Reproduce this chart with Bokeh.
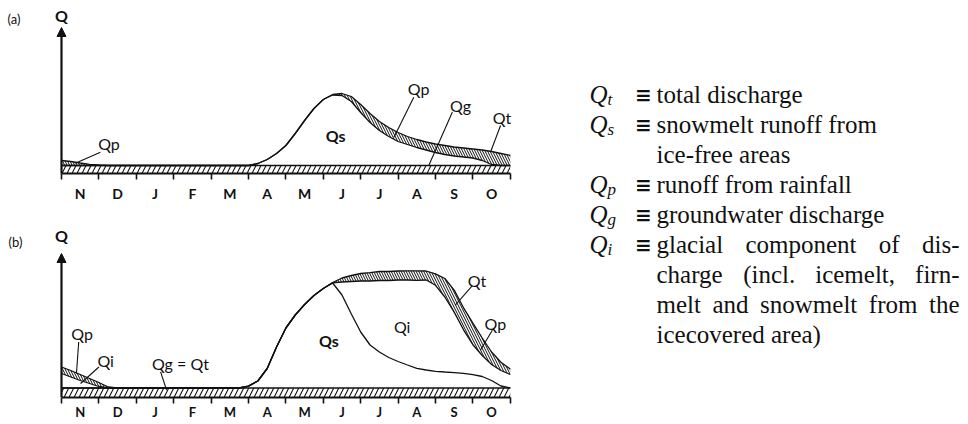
from bokeh.plotting import figure
from bokeh.layouts import row, column
from bokeh.models import Range1d, FixedTicker, Arrow, NormalHead
from bokeh.core.properties import value
from bokeh.embed import file_html
from bokeh.resources import INLINE

# ---------------- data ----------------
MONTHS = ["N", "D", "J", "F", "M", "A", "M", "J", "J", "A", "S", "O"]
T = [i * 0.25 for i in range(49)]  # months since 1 November

# panel (a): ice-free basin
QG_A = 0.8
QS_A = [0] * 21 + [0.2, 0.6, 1.2, 2.0, 3.2, 4.5, 5.7, 6.6, 7.05, 7.0, 6.4, 5.3, 4.3, 3.5,
                   2.9, 2.4, 2.1, 1.8, 1.55, 1.3, 1.1, 0.95, 0.85, 0.75, 0.5, 0.1, 0, 0]
QP_A = [0.5, 0.4, 0.25, 0.12, 0.05] + [0] * 24 + [0.05, 0.2, 0.5, 0.8, 0.9, 0.9, 0.9, 0.9,
                                                  0.8, 0.8, 0.8, 0.85, 0.9, 0.9, 0.9, 0.9,
                                                  1.05, 1.3, 1.2, 1.0]

# panel (b): glacierized basin
QG_B = 0.9
QS_B = [0] * 20 + [0.19, 0.7, 1.95, 4.1, 6.0, 7.3, 8.35, 9.25, 9.95, 10.5, 9.3, 7.4, 5.6, 4.3,
                   3.6, 3.05, 2.65, 2.3, 1.97, 1.8, 1.67, 1.6, 1.54, 1.47, 1.33, 1.15, 0.75,
                   0.2, 0]
QI_B = [1.45, 1.1, 0.75, 0.45, 0.15] + [0] * 24 + [0.02, 1.3, 3.25, 5.1, 6.4, 7.15, 7.7, 8.15,
                                                   8.5, 8.8, 9.0, 8.6, 7.5, 6.05, 4.35, 3.0,
                                                   2.1, 1.6, 1.55, 1.35]
QP_B = [0.65, 0.65, 0.6, 0.5, 0.4, 0.1] + [0] * 23 + [0.03, 0.4, 0.6, 0.75, 0.83, 0.9, 0.9,
                                                      0.9, 0.92, 0.95, 0.9, 1.15, 1.85, 2.2,
                                                      2.2, 2.15, 1.75, 1.25, 0.83, 0.55]

# in-chart labels and leader lines
LAB_A_TXT = ["Qp", "Qs", "Qp", "Qg", "Qt"]
LAB_A_X = [1.27, 7.33, 9.55, 10.67, 11.78]
LAB_A_Y = [2.97, 3.8, 8.47, 6.8, 5.63]
LEAD_A = dict(x0=[1.04, 9.42, 10.45, 11.74], y0=[2.13, 7.63, 6.13, 4.8],
              x1=[0.37, 8.89, 9.82, 11.47], y1=[1.03, 3.63, 0.8, 2.13])

LAB_B_TXT = ["Qp", "Qi", "Qg = Qt", "Qs", "Qi", "Qt", "Qp"]
LAB_B_X = [0.55, 1.18, 3.18, 7.15, 9.11, 11.11, 11.6]
LAB_B_Y = [6.35, 3.68, 3.35, 5.68, 7.02, 11.68, 7.35]
LEAD_B = dict(x0=[0.46, 1.0, 2.65, 10.98, 11.52], y0=[5.5, 3.0, 2.52, 11.12, 6.68],
              x1=[0.4, 0.51, 2.81, 10.53, 11.2], y1=[2.35, 1.35, 0.68, 9.18, 4.68])

# legend text
LEG_SUB = ["t", "s", "", "p", "g", "i", "", "", ""]
LEG_LINES = ["total discharge", "snowmelt runoff from", "ice-free areas",
             "runoff from rainfall", "groundwater discharge",
             "glacial component of dis-", "charge (incl. icemelt, firn-",
             "melt and snowmelt from the", "icecovered area)"]
LEG_JUSTIFY = [False, False, False, False, False, True, True, True, False]

# ---------------- styling helpers ----------------
SANS = "Lato"
SERIF = "Liberation Serif"
INK = "#111111"

# Times-Roman advance widths (per 1000 em) for justified lines
TW = dict(zip("abcdefghijklmnopqrstuvwxyz",
              [444, 500, 444, 500, 444, 333, 500, 500, 278, 278, 500, 278, 778, 500, 500,
               500, 500, 333, 389, 278, 500, 500, 722, 500, 500, 444]))
TW.update({" ": 250, "(": 333, ")": 333, ".": 250, ",": 250, "-": 333})


def text_width(s, size):
    return sum(TW.get(c, 500) for c in s) * size / 1000.0


def cumulative(*parts):
    return [sum(vals) for vals in zip(*parts)]


def make_panel(height, y_bottom, y_top, standoff, tick_size):
    p = figure(width=528, height=height,
               x_range=Range1d(-1.631, 12.487), y_range=Range1d(y_bottom, y_top),
               output_backend="svg", toolbar_location=None,
               min_border_left=0, min_border_right=0, min_border_top=0,
               min_border_bottom=0)
    p.outline_line_color = None
    p.background_fill_color = "white"
    p.grid.visible = False
    p.yaxis.visible = False
    ax = p.xaxis[0]
    ax.fixed_location = 0
    ax.ticker = FixedTicker(ticks=[i + 0.5 for i in range(12)],
                            minor_ticks=list(range(13)))
    ax.major_label_overrides = {i + 0.5: MONTHS[i] for i in range(12)}
    ax.bounds = (0, 12)
    ax.axis_line_width = 2.2
    ax.axis_line_color = INK
    ax.major_tick_line_color = None
    ax.major_tick_out = 0
    ax.major_tick_in = 0
    ax.minor_tick_line_color = INK
    ax.minor_tick_line_width = 1.6
    ax.minor_tick_out = 6
    ax.minor_tick_in = 0
    ax.major_label_standoff = standoff
    ax.major_label_text_font = SANS
    ax.major_label_text_font_size = tick_size
    ax.major_label_text_font_style = "bold"
    ax.major_label_text_color = INK
    return p


def draw_common(p, gtop, arrow_top, tag, tag_xy, q_xy):
    # groundwater strip
    p.varea(x=T, y1=[0] * len(T), y2=gtop, fill_color="white",
            hatch_pattern="/", hatch_color=INK, hatch_scale=10, hatch_weight=1.1)
    p.line(T, gtop, line_color=INK, line_width=1.3)
    p.add_layout(Arrow(end=NormalHead(size=9, fill_color=INK, line_color=INK),
                       x_start=0, y_start=0, x_end=0, y_end=arrow_top,
                       line_width=2.2, line_color=INK))
    p.text(x=[q_xy[0]], y=[q_xy[1]], text=["Q"], text_font=value(SANS),
           text_font_size="16px", text_font_style="bold", text_color=INK,
           text_align="center", text_baseline="middle")
    p.text(x=[tag_xy[0]], y=[tag_xy[1]], text=[tag], text_font=value(SANS),
           text_font_size="13px", text_color=INK, text_align="center",
           text_baseline="middle")


def draw_labels(p, txt, xs, ys, lead):
    for style in ("normal", "bold"):
        sel = [i for i, t in enumerate(txt) if (t == "Qs") == (style == "bold")]
        p.text(x=[xs[i] for i in sel], y=[ys[i] for i in sel], text=[txt[i] for i in sel],
               text_font=value(SANS), text_font_size="16px", text_font_style=style,
               text_color=INK, text_align="center", text_baseline="middle")
    p.segment(x0=lead["x0"], y0=lead["y0"], x1=lead["x1"], y1=lead["y1"],
              line_color=INK, line_width=1.1)


# ---------------- panel (a) ----------------
pa = make_panel(208, -3.5, 17.3, 5, "14px")
ga = [QG_A] * len(T)
sa = cumulative(ga, QS_A)
ta = cumulative(ga, QS_A, QP_A)
pa.varea(x=T, y1=sa, y2=ta, fill_color="white", hatch_pattern="\\",
         hatch_color=INK, hatch_scale=5, hatch_weight=1.0)
draw_common(pa, ga, 14.6, "(a)", (-1.27, 15.47), (0, 15.8))
pa.line(T, sa, line_color=INK, line_width=1.3)
pa.line(T, ta, line_color=INK, line_width=1.3)
draw_labels(pa, LAB_A_TXT, LAB_A_X, LAB_A_Y, LEAD_A)

# ---------------- panel (b) ----------------
pb = make_panel(212, -2.35, 18.85, 1, "13px")
gb = [QG_B] * len(T)
sb = cumulative(gb, QS_B)
ib = cumulative(gb, QS_B, QI_B)
tb = cumulative(gb, QS_B, QI_B, QP_B)
pb.varea(x=T, y1=ib, y2=tb, fill_color="white", hatch_pattern="\\",
         hatch_color=INK, hatch_scale=5, hatch_weight=1.0)
draw_common(pb, gb, 14.35, "(b)", (-1.23, 15.5), (0, 16.2))
pb.line(T, sb, line_color=INK, line_width=1.3)
pb.line(T, ib, line_color=INK, line_width=1.3)
pb.line(T, tb, line_color=INK, line_width=1.3)
draw_labels(pb, LAB_B_TXT, LAB_B_X, LAB_B_Y, LEAD_B)

# ---------------- legend text ----------------
pl = figure(width=436, height=420, x_range=Range1d(0, 436), y_range=Range1d(420, 0),
            output_backend="svg", toolbar_location=None,
            min_border_left=0, min_border_right=0, min_border_top=0, min_border_bottom=0)
pl.outline_line_color = None
pl.grid.visible = False
pl.axis.visible = False

FS = 25
X_TEXT, X_END, X_Q, X_SUB, X_EQ = 128, 431, 61, 79, 115
base = [94 + 30 * i for i in range(len(LEG_LINES))]

qx, qy, sx, sy, ex, ey = [], [], [], [], [], []
for i, s in enumerate(LEG_SUB):
    if s:
        qx.append(X_Q); qy.append(base[i])
        sx.append(X_SUB); sy.append(base[i] + 5)
        ex.append(X_EQ); ey.append(base[i])
pl.text(x=qx, y=qy, text=["Q"] * len(qx), text_font=value(SERIF), text_font_size="25px",
        text_font_style="italic", text_color=INK, text_baseline="alphabetic")
pl.text(x=sx, y=sy, text=[s for s in LEG_SUB if s], text_font=value(SERIF),
        text_font_size="17px", text_font_style="italic", text_color=INK,
        text_baseline="alphabetic")
pl.text(x=ex, y=ey, text=["\u2261"] * len(ex), text_font=value("DejaVu Sans"),
        text_font_size="20px", text_font_style="bold", text_color=INK,
        text_align="center", text_baseline="alphabetic")

wx, wy, wt = [], [], []
for i, line in enumerate(LEG_LINES):
    if LEG_JUSTIFY[i]:
        words = line.split(" ")
        total = sum(text_width(w, FS) for w in words)
        gap = (X_END - X_TEXT - total) / (len(words) - 1)
        x = X_TEXT
        for w in words:
            wx.append(x); wy.append(base[i]); wt.append(w)
            x += text_width(w, FS) + gap
    else:
        wx.append(X_TEXT); wy.append(base[i]); wt.append(line)
pl.text(x=wx, y=wy, text=wt, text_font=value(SERIF), text_font_size="25px",
        text_color=INK, text_baseline="alphabetic")

layout = row(column(pa, pb, spacing=0), pl, spacing=0)
open("out.html", "w").write(file_html(layout, INLINE))
